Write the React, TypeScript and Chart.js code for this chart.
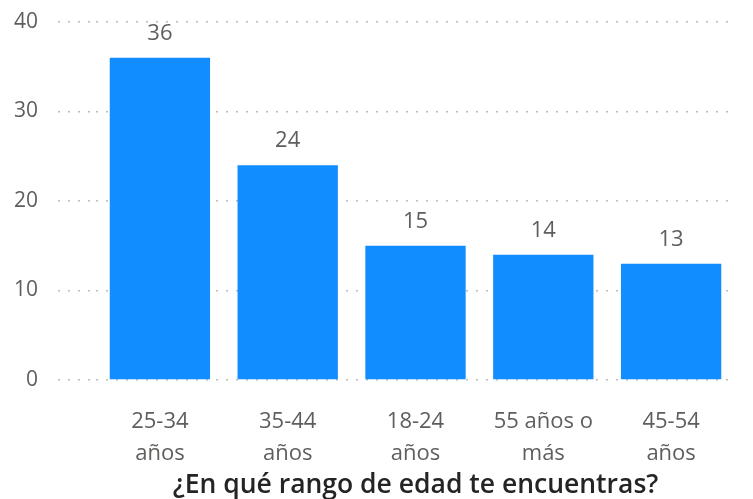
import React, { useEffect, useRef } from "react";
import { Chart, registerables } from "chart.js";

Chart.register(...registerables);

const categories: string[][] = [
  ["25-34", "años"],
  ["35-44", "años"],
  ["18-24", "años"],
  ["55 años o", "más"],
  ["45-54", "años"],
];
const values: number[] = [36, 24, 15, 14, 13];
const yTicks: number[] = [0, 10, 20, 30, 40];
const axisTitle = "¿En qué rango de edad te encuentras?";

const FONT = "'Open Sans', 'Noto Sans', sans-serif";

const dataLabelPlugin = {
  id: "dataLabels",
  afterDatasetsDraw(chart: any) {
    const ctx = chart.ctx;
    const meta = chart.getDatasetMeta(0);
    const data = chart.data.datasets[0].data as number[];
    ctx.save();
    ctx.font = `22px ${FONT}`;
    ctx.fillStyle = "#605E5C";
    ctx.textAlign = "center";
    ctx.textBaseline = "alphabetic";
    meta.data.forEach((bar: any, i: number) => {
      ctx.fillText(String(data[i]), bar.x, bar.y - 18);
    });
    ctx.restore();
  },
};

export default function App() {
  const ref = useRef<HTMLCanvasElement | null>(null);

  useEffect(() => {
    if (!ref.current) return;
    const chart = new Chart(ref.current, {
      type: "bar",
      data: {
        labels: categories,
        datasets: [
          {
            data: values,
            backgroundColor: "#118DFF",
            borderWidth: 0,
            barPercentage: 0.785,
            categoryPercentage: 1,
          },
        ],
      },
      options: {
        animation: false,
        responsive: false,
        maintainAspectRatio: false,
        layout: { padding: { left: 0, right: 18, top: 0, bottom: 0 } },
        plugins: {
          legend: { display: false },
          tooltip: { enabled: false },
        },
        scales: {
          x: {
            afterFit: (scale: any) => {
              scale.height = 119;
            },
            grid: { display: false, drawTicks: false },
            border: { display: false },
            ticks: {
              color: "#605E5C",
              font: { family: FONT, size: 22, lineHeight: 1.45 },
              padding: 26,
              maxRotation: 0,
              autoSkip: false,
            },
            title: {
              display: true,
              text: axisTitle,
              color: "#252423",
              font: { family: FONT, size: 26.5, weight: "600", lineHeight: 1.0 },
              padding: { top: 0, bottom: 0 },
            },
          },
          y: {
            min: yTicks[0],
            max: yTicks[yTicks.length - 1],
            afterFit: (scale: any) => {
              scale.width = 96;
              scale.paddingTop = 22;
              scale.paddingBottom = 0;
            },
            afterBuildTicks: (scale: any) => {
              scale.ticks = yTicks.map((v) => ({ value: v }));
            },
            border: { display: false, dash: [2, 8] },
            grid: {
              color: "#BEBCBA",
              lineWidth: 1.5,
              drawTicks: true,
              tickLength: 38,
              tickColor: "#BEBCBA",
              tickWidth: 1.5,
              tickBorderDash: [2, 8],
            },
            ticks: {
              color: "#605E5C",
              font: { family: FONT, size: 21 },
              padding: 20,
            },
          },
        },
      } as any,
      plugins: [dataLabelPlugin],
    });
    return () => chart.destroy();
  }, []);

  return (
    <div style={{ position: "fixed", left: 0, top: 0, width: 753, height: 499, background: "#fff" }}>
      <canvas ref={ref} width={753} height={499} style={{ display: "block" }} />
    </div>
  );
}
